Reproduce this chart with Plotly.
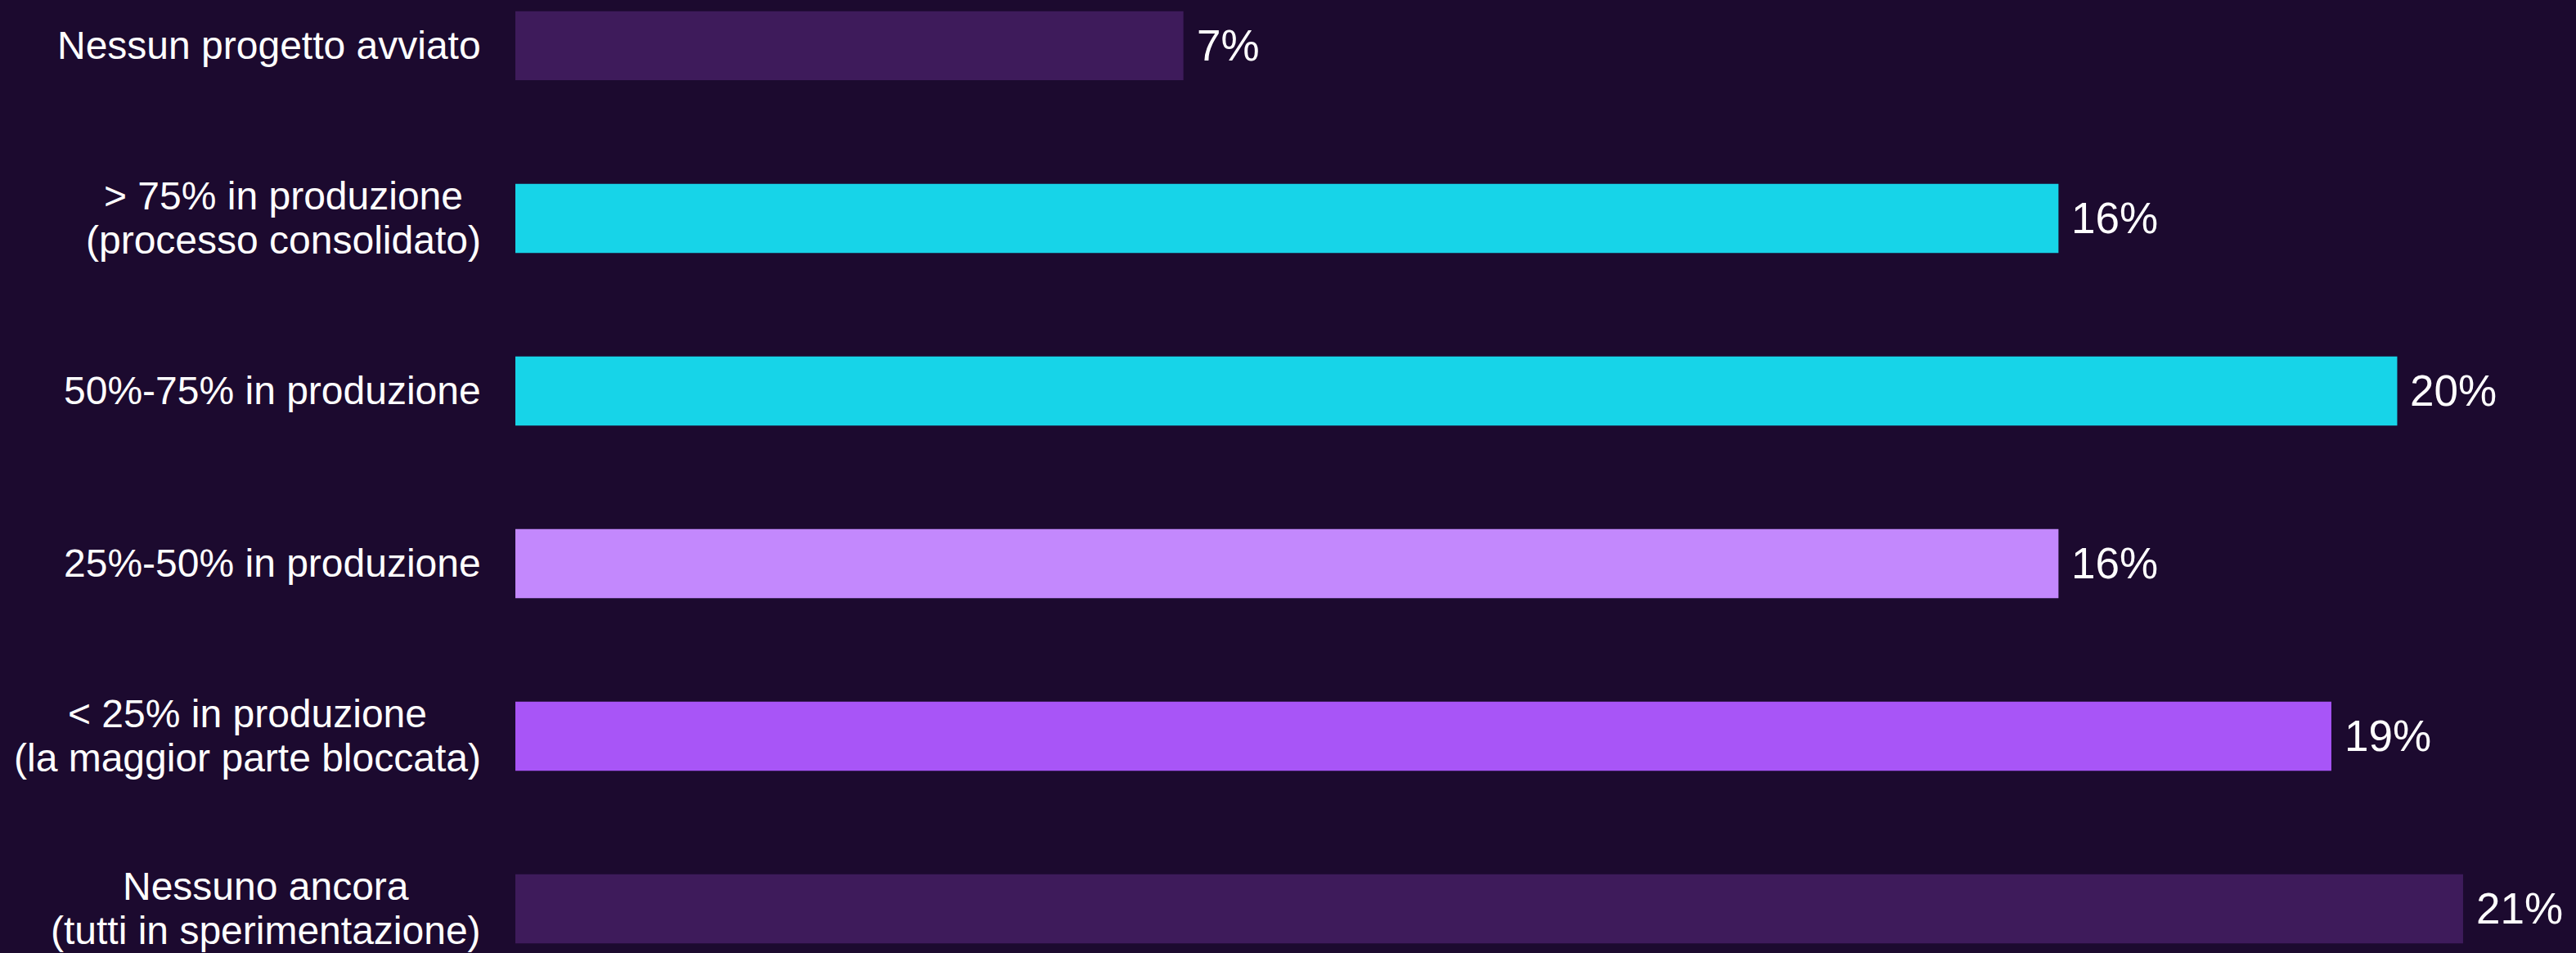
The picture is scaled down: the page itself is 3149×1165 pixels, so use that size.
import plotly.graph_objects as go

categories = [
    "Nessun progetto avviato",
    "> 75% in produzione<br>(processo consolidato)",
    "50%-75% in produzione",
    "25%-50% in produzione",
    "< 25% in produzione<br>(la maggior parte bloccata)",
    "Nessuno ancora<br>(tutti in sperimentazione)",
]
values = [7.1, 16.4, 20.0, 16.4, 19.3, 20.7]
bar_colors = ["#3E1B5B", "#17D4E8", "#17D4E8", "#C388FD", "#A855F7", "#3E1B5B"]

BG = "#1C0A2F"
FONT = "Arial, Liberation Sans, sans-serif"
LABEL_SIZE = 48
VALUE_SIZE = 53
LINE_GAP = 54  # px between baselines of wrapped category labels

# Arial advance widths (per 1000 em) used to centre wrapped label lines
_W = {c: 556 for c in "abdeghnopqu0123456789"}
_W.update({"c": 500, "k": 500, "s": 500, "v": 500, "x": 500, "y": 500, "z": 500,
           "f": 278, "t": 278, "i": 222, "j": 222, "l": 222, "m": 833, "r": 333,
           "w": 722, " ": 278, ">": 584, "<": 584, "%": 889, "(": 333, ")": 333,
           "-": 333, "N": 722})


def text_width(s, size):
    return sum(_W.get(ch, 556) for ch in s) * size / 1000.0


fig = go.Figure(
    go.Bar(
        x=values,
        y=categories,
        orientation="h",
        marker=dict(color=bar_colors, line=dict(width=0)),
        width=0.4,
        hoverinfo="skip",
    )
)

annotations = []
for cat, v in zip(categories, values):
    lines = cat.split("<br>")
    block_w = max(text_width(l, LABEL_SIZE) for l in lines)
    n = len(lines)
    for i, line in enumerate(lines):
        annotations.append(dict(
            x=0, y=cat, xref="x", yref="y", text=line,
            xanchor="center", yanchor="middle",
            xshift=-42 - block_w / 2,
            yshift=((n - 1) / 2 - i) * LINE_GAP,
            showarrow=False, font=dict(family=FONT, size=LABEL_SIZE, color="white"),
        ))
    annotations.append(dict(
        x=v, y=cat, xref="x", yref="y", text=f"{round(v)}%",
        xanchor="left", yanchor="middle", xshift=14, yshift=0,
        showarrow=False, font=dict(family=FONT, size=VALUE_SIZE, color="white"),
    ))

fig.update_layout(
    width=3149, height=1165,
    margin=dict(l=630, r=0, t=0, b=0),
    paper_bgcolor=BG, plot_bgcolor=BG,
    showlegend=False,
    xaxis=dict(range=[0, 21.9], visible=False, showgrid=False, zeroline=False),
    yaxis=dict(
        categoryorder="array", categoryarray=categories,
        range=[5.256, -0.265], showticklabels=False,
        showgrid=False, zeroline=False, showline=False, ticks="",
    ),
    annotations=annotations,
)

fig.write_html(
    "out.html",
    config={"displayModeBar": False},
    post_script="document.body.style.margin='0';document.body.style.background='%s';" % BG,
)
